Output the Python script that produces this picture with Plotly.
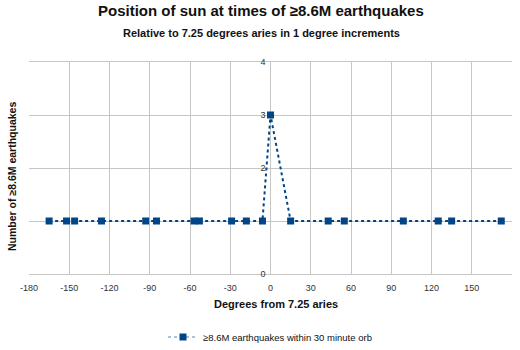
import plotly.graph_objects as go

# Sun position (degrees from 7.25 aries) at each >=8.6M earthquake, binned count per degree
degrees = [-165, -152, -146, -126, -93, -85, -57, -53, -29, -18, -6, 0, 15, 43, 55, 99, 125, 135, 172]
counts = [1, 1, 1, 1, 1, 1, 1, 1, 1, 1, 1, 3, 1, 1, 1, 1, 1, 1, 1]

x_tick_values = [-180, -150, -120, -90, -60, -30, 0, 30, 60, 90, 120, 150]
x_tick_labels = ["-180", "-150", "-120", "-90", "-60", "-30", "0", "30", "60", "90", "120", "150"]
y_tick_values = [0, 1, 2, 3, 4]
# the "1" label sits under the marker at -6 degrees, so it is left blank
y_tick_labels = ["0", "", "2", "3", "4"]

series_name = "≥8.6M earthquakes within 30 minute orb"
title_text = "Position of sun at times of ≥8.6M earthquakes"
subtitle_text = "Relative to 7.25 degrees aries in 1 degree increments"
x_title = "Degrees from 7.25 aries"
y_title = "Number of ≥8.6M earthquakes"

navy = "#004586"
grid = "#c6c6c6"
font_family = "Liberation Sans, Arial, sans-serif"

fig = go.Figure()
fig.add_trace(go.Scatter(
    x=degrees, y=counts, name=series_name, mode="lines+markers", showlegend=False,
    line=dict(color=navy, width=2, dash="dot"),
    marker=dict(symbol="square", size=7, color=navy),
))
# legend entry drawn with a lighter, thinner dotted line
fig.add_trace(go.Scatter(
    x=[None], y=[None], name=series_name, mode="lines+markers",
    line=dict(color="#5a86b3", width=1, dash="dot"),
    marker=dict(symbol="square", size=7, color=navy),
))

W, H = 520, 350
ml, mr, mt, mb = 29, 8, 62, 76
ph = H - mt - mb
pw = W - ml - mr
# the value axis sits on the x=0 line
zero_frac = (0 - (-180)) / 360.0

fig.update_layout(
    width=W, height=H,
    margin=dict(l=ml, r=mr, t=mt, b=mb, autoexpand=False),
    paper_bgcolor="white", plot_bgcolor="white",
    font=dict(family=font_family, color="#222222"),
    showlegend=True,
    legend=dict(orientation="h", xref="container", x=270 / W, xanchor="center",
                yref="container", y=1 - 337 / H, yanchor="middle",
                font=dict(size=9.5, color="#111111"), itemwidth=30),
    xaxis=dict(range=[-180, 180], tickvals=x_tick_values, ticktext=x_tick_labels,
               showgrid=True, gridcolor=grid, gridwidth=1, zeroline=False,
               showline=True, linecolor=grid, mirror=True, ticks="",
               tickfont=dict(size=9, color="#333333"), ticklabelstandoff=5),
    yaxis=dict(range=[0, 4], tickvals=y_tick_values, ticktext=y_tick_labels,
               showgrid=True, gridcolor=grid, gridwidth=1, zeroline=False,
               showline=False, ticks="", anchor="free", position=zero_frac,
               ticklabelstandoff=5,
               tickfont=dict(size=9, color="#333333")),
    annotations=[
        dict(text="<b>" + title_text + "</b>", xref="paper", yref="paper",
             x=(261 - ml) / pw, y=1 + (mt - 10) / ph,
             xanchor="center", yanchor="middle", showarrow=False,
             font=dict(size=15, color="#111111")),
        dict(text="<b>" + subtitle_text + "</b>", xref="paper", yref="paper",
             x=(261 - ml) / pw, y=1 + (mt - 33) / ph,
             xanchor="center", yanchor="middle", showarrow=False,
             font=dict(size=11, color="#111111")),
        dict(text="<b>" + x_title + "</b>", xref="paper", yref="paper",
             x=(276 - ml) / pw, y=-(304 - (H - mb)) / ph,
             xanchor="center", yanchor="middle", showarrow=False,
             font=dict(size=11, color="#111111")),
        dict(text="<b>" + y_title + "</b>", xref="paper", yref="paper",
             x=-(ml - 12) / pw, y=1 - (177 - mt) / ph,
             xanchor="center", yanchor="middle", showarrow=False, textangle=-90,
             font=dict(size=10.5, color="#111111")),
    ],
)

fig.write_html("out.html")
